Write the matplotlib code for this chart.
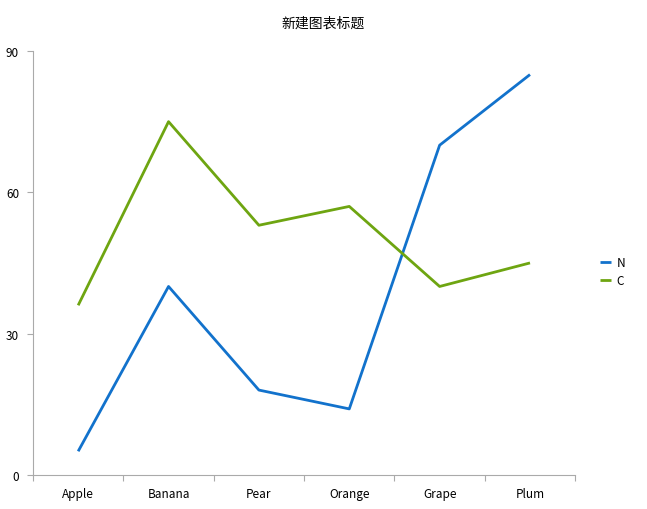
import matplotlib.pyplot as plt
from matplotlib.ticker import FixedLocator

plt.rcParams['font.family'] = ['Noto Sans CJK SC', 'DejaVu Sans']

fruits = ["Apple", "Banana", "Pear", "Orange", "Grape", "Plum"]
n_vals = [5, 40, 18, 14, 70, 85]
c_vals = [36, 75, 53, 57, 40, 45]
title = "新建图表标题"

fig = plt.figure(figsize=(6.47, 5.10), dpi=100)
ax = fig.add_axes([0.051, 0.067, 0.838, 0.831])

x = range(len(fruits))
ax.plot(x, n_vals, color="#1272CC", lw=2.0, label="N", solid_capstyle="butt")
ax.plot(x, c_vals, color="#6EA511", lw=2.0, label="C", solid_capstyle="butt")

ax.set_xlim(-0.5, len(fruits) - 0.5)
ax.set_ylim(0, 90)
ax.set_yticks([0, 30, 60, 90])
ax.xaxis.set_major_locator(FixedLocator([i - 0.5 for i in range(len(fruits) + 1)]))
ax.xaxis.set_minor_locator(FixedLocator(list(x)))
ax.set_xticklabels([])
ax.set_xticklabels(fruits, minor=True)
ax.tick_params(axis="x", which="major", length=4, color="#AAAAAA")
ax.tick_params(axis="x", which="minor", length=0, pad=9, labelsize=8.5)
ax.tick_params(axis="y", length=4, color="#AAAAAA", labelsize=8.5, pad=6)

for s in ["top", "right"]:
    ax.spines[s].set_visible(False)
for s in ["left", "bottom"]:
    ax.spines[s].set_color("#AAAAAA")

fig.text(0.5, 0.953, title, ha="center", va="center", fontsize=10)
ax.legend(loc="center left", bbox_to_anchor=(1.026, 0.479), frameon=False,
          fontsize=8.5, handlelength=0.9, handletextpad=0.5, labelspacing=0.4)

fig.savefig("out.png", dpi=100)
